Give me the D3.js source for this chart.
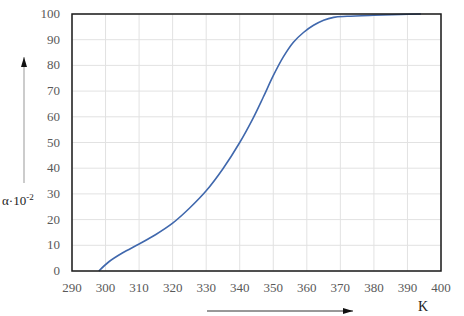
<!DOCTYPE html>
<html>
<head>
<meta charset="utf-8">
<script src="https://cdn.jsdelivr.net/npm/d3@7"></script>
<style>
  body { margin: 0; background: #fff; }
</style>
</head>
<body>
<div id="chart"></div>
<script>
// Data
const temps = [298, 301, 305, 310, 315, 320, 325, 330, 335, 340, 344, 347, 350, 353, 356, 359, 362, 365, 368, 372, 380, 388, 394];
const alpha = [0, 3.6, 7.0, 10.5, 14.2, 18.6, 24.4, 31.2, 39.8, 50, 59.5, 67.6, 76, 83.3, 89, 92.8, 95.6, 97.6, 98.7, 99.1, 99.5, 99.8, 100];
const xTicks = [290, 300, 310, 320, 330, 340, 350, 360, 370, 380, 390, 400];
const yTicks = [0, 10, 20, 30, 40, 50, 60, 70, 80, 90, 100];

const width = 464, height = 316;
const margin = {top: 14, right: 23, bottom: 45, left: 72};
const serif = "'Liberation Serif', 'Times New Roman', Times, serif";

const svg = d3.select("#chart").append("svg")
    .attr("width", width)
    .attr("height", height)
    .attr("font-family", serif);

const x = d3.scaleLinear().domain([290, 400]).range([margin.left, width - margin.right]);
const y = d3.scaleLinear().domain([0, 100]).range([height - margin.bottom, margin.top]);

// Grid
svg.append("g")
    .selectAll("line")
    .data(xTicks)
    .enter().append("line")
    .attr("x1", d => x(d)).attr("x2", d => x(d))
    .attr("y1", y(0)).attr("y2", y(100))
    .attr("stroke", "#e2e2e2");

svg.append("g")
    .selectAll("line")
    .data(yTicks)
    .enter().append("line")
    .attr("x1", x(290)).attr("x2", x(400))
    .attr("y1", d => y(d)).attr("y2", d => y(d))
    .attr("stroke", "#e2e2e2");

// Tick labels
svg.append("g")
    .selectAll("text")
    .data(xTicks)
    .enter().append("text")
    .attr("x", d => x(d))
    .attr("y", y(0) + 21)
    .attr("text-anchor", "middle")
    .attr("fill", "#595959")
    .attr("font-family", serif)
    .style("font-size", "13px")
    .text(d => d);

svg.append("g")
    .selectAll("text")
    .data(yTicks)
    .enter().append("text")
    .attr("x", x(290) - 12)
    .attr("y", d => y(d) + 4)
    .attr("text-anchor", "end")
    .attr("fill", "#595959")
    .attr("font-family", serif)
    .style("font-size", "13px")
    .text(d => d);

// Curve
const pts = temps.map((t, i) => [t, alpha[i]]);
const line = d3.line()
    .x(d => x(d[0]))
    .y(d => y(d[1]))
    .curve(d3.curveCatmullRom.alpha(0.5));

svg.append("path")
    .datum(pts)
    .attr("d", line)
    .attr("fill", "none")
    .attr("stroke", "#4068ad")
    .attr("stroke-width", 1.6);

// Frame
svg.append("rect")
    .attr("x", x(290))
    .attr("y", y(100))
    .attr("width", x(400) - x(290))
    .attr("height", y(0) - y(100))
    .attr("fill", "none")
    .attr("stroke", "#1a1a1a")
    .attr("stroke-width", 1.5);

// Arrows
const defs = svg.append("defs");
defs.append("marker")
    .attr("id", "arrow")
    .attr("viewBox", "0 0 10 6")
    .attr("refX", 10).attr("refY", 3)
    .attr("markerWidth", 10).attr("markerHeight", 6)
    .attr("markerUnits", "userSpaceOnUse")
    .attr("orient", "auto")
    .append("path")
    .attr("d", "M0,0 L10,3 L0,6 Z")
    .attr("fill", "#111");

svg.append("line")
    .attr("x1", 24).attr("y1", 183)
    .attr("x2", 24).attr("y2", 57)
    .attr("stroke", "#999")
    .attr("stroke-width", 1)
    .attr("marker-end", "url(#arrow)");

svg.append("line")
    .attr("x1", 207).attr("y1", 311)
    .attr("x2", 353).attr("y2", 311)
    .attr("stroke", "#333")
    .attr("stroke-width", 1)
    .attr("marker-end", "url(#arrow)");

// Axis labels
const yl = svg.append("text")
    .attr("x", 2)
    .attr("y", 205)
    .attr("fill", "#222")
    .attr("font-family", serif)
    .style("font-size", "13px");
yl.append("tspan").text("α·10");
yl.append("tspan").attr("dy", -5).style("font-size", "9px").text("-2");

svg.append("text")
    .attr("x", 423)
    .attr("y", 311)
    .attr("text-anchor", "middle")
    .attr("fill", "#222")
    .attr("font-family", serif)
    .style("font-size", "14px")
    .text("K");
</script>
</body>
</html>
